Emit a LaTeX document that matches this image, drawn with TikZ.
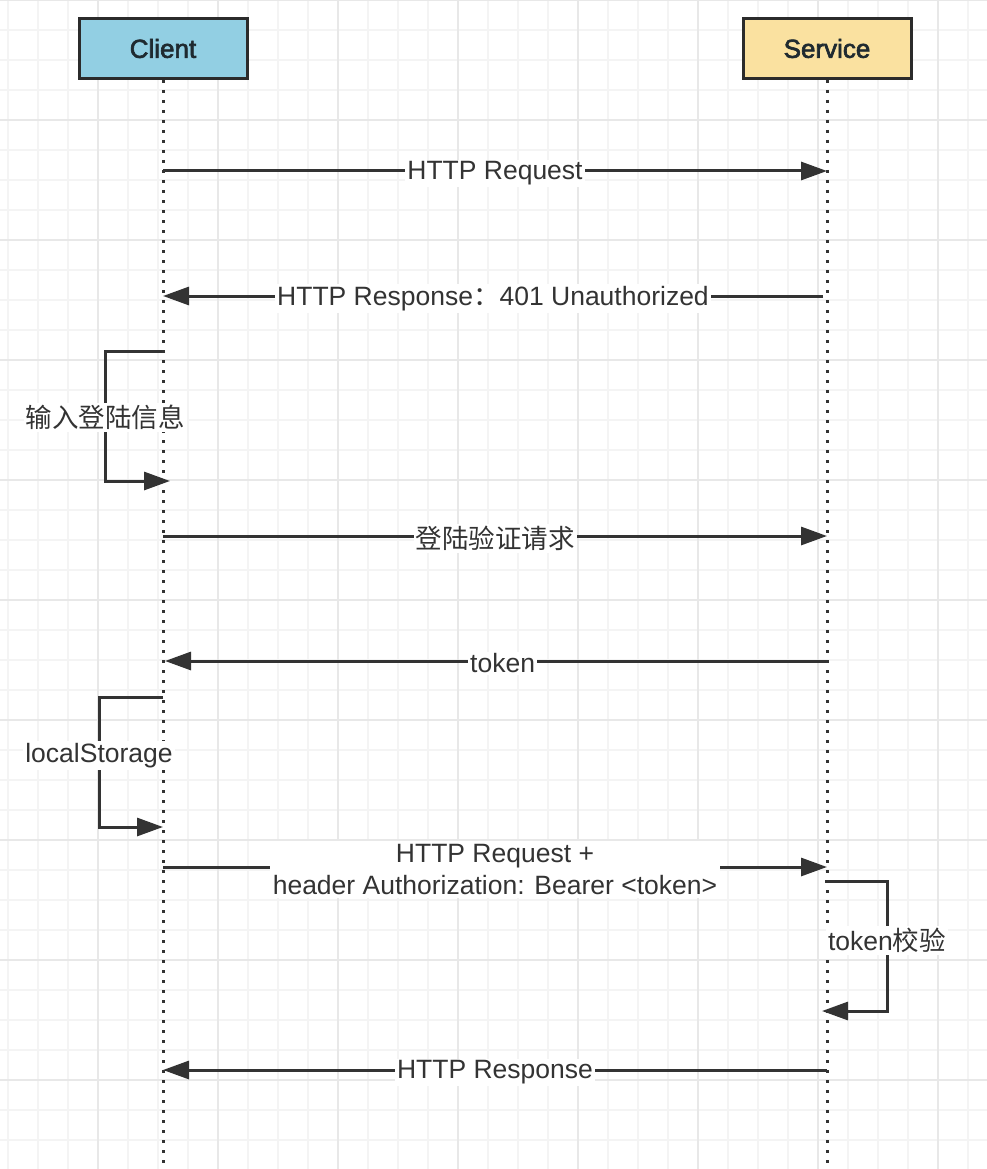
\documentclass[tikz,border=0pt]{standalone}
\usepackage{fontspec}
\setmainfont{Liberation Sans}
\newfontfamily\headfont[FakeBold=2.5]{Liberation Sans}
\newfontfamily\cjk{Noto Sans CJK SC}
\usetikzlibrary{arrows.meta}
\definecolor{ink}{HTML}{333333}
\definecolor{boxline}{HTML}{2B2B2B}
\definecolor{headtext}{HTML}{1F2A30}
\definecolor{clientfill}{HTML}{92CFE3}
\definecolor{servicefill}{HTML}{FAE1A0}
\definecolor{gridminor}{HTML}{F4F4F4}
\definecolor{gridmajor}{HTML}{E8E8E8}
\tikzset{
  actor/.style={draw=boxline, line width=3pt, minimum width=168pt, minimum height=60pt,
    inner sep=0pt, text=headtext, font=\headfont\fontsize{26}{30}\selectfont},
  life/.style={draw=ink, line width=3pt, dash pattern=on 3pt off 7pt},
  msg/.style={draw=ink, line width=3pt, -{Triangle[length=26pt,width=18pt]}},
  lbl/.style={fill=white, text=ink, inner sep=2pt, font=\fontsize{26.5}{32}\selectfont, align=center, yshift=-2.5pt},
  gminor/.style={draw=gridminor, line width=1.2pt},
  gmajor/.style={draw=gridmajor, line width=1.6pt}
}
\begin{document}
\begin{tikzpicture}[x=1pt,y=-1pt]
\useasboundingbox (0,0) rectangle (987,1169);
\fill[white] (0,0) rectangle (987,1169);
% grid
\foreach \x in {8,38,...,998} \draw[gminor] (\x,0) -- (\x,1169);
\foreach \y in {0,30,...,1169} \draw[gminor] (0,\y) -- (987,\y);
\foreach \x in {98,218,...,998} \draw[gmajor] (\x,0) -- (\x,1169);
\foreach \y in {0,120,...,1169} \draw[gmajor] (0,\y) -- (987,\y);

% actors
\node[actor, fill=clientfill] (client) at (163,48.5) {Client};
\node[actor, fill=servicefill] (service) at (827,48.5) {Service};
\coordinate (cend) at (163,1169);
\coordinate (send) at (827,1169);
\draw[life] (client.south) -- (cend);
\draw[life] (service.south) -- (send);

% message endpoints
\coordinate (c1) at (163,171);  \coordinate (s1) at (827,171);
\coordinate (s2) at (823,296);  \coordinate (c2) at (163,296);
\coordinate (c3a) at (165,351); \coordinate (c3b) at (170,481);
\coordinate (c4) at (163,536);  \coordinate (s4) at (827,536);
\coordinate (s5) at (827,661);  \coordinate (c5) at (165,661);
\coordinate (c6a) at (163,697); \coordinate (c6b) at (163,827);
\coordinate (c7) at (163,867);  \coordinate (s7) at (827,867);
\coordinate (s8a) at (825,881); \coordinate (s8b) at (822,1011);
\coordinate (s9) at (827,1070); \coordinate (c9) at (163,1070);

\draw[msg] (c1) -- node[lbl] (m1) {HTTP Request} (s1);
\draw[msg] (s2) -- node[lbl] (m2) {HTTP Response{\cjk ：}401 Unauthorized} (c2);
\draw[msg] (c3a) -- ++(-60,0) |- node[lbl, pos=0.246] (m3) {\cjk 输入登陆信息} (c3b);
\draw[msg] (c4) -- node[lbl] (m4) {\cjk 登陆验证请求} (s4);
\draw[msg] (s5) -- node[lbl, pos=0.49] (m5) {token} (c5);
\draw[msg] (c6a) -- ++(-64,0) |- node[lbl, pos=0.215] (m6) {localStorage} (c6b);
\draw[msg] (c7) -- node[lbl, inner sep=3pt] (m7) {HTTP Request +\\header Authorization: Bearer <token>} (s7);
\draw[msg] (s8a) -- ++(62,0) |- node[lbl, pos=0.219] (m8) {token{\cjk 校验}} (s8b);
\draw[msg] (s9) -- node[lbl] (m9) {HTTP Response} (c9);
\end{tikzpicture}
\end{document}
